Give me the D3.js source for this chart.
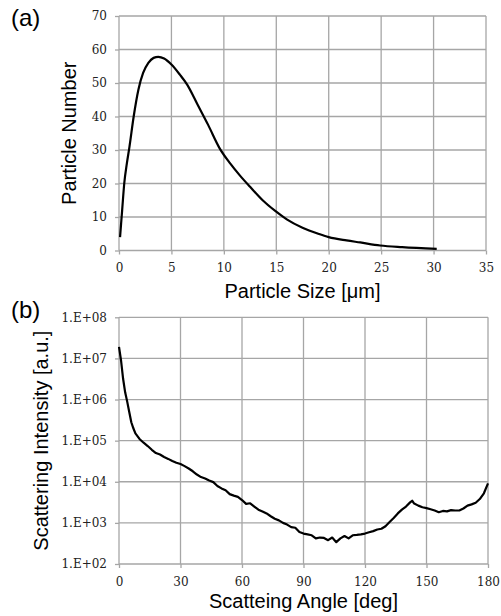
<!DOCTYPE html>
<html>
<head>
<meta charset="utf-8">
<script src="https://cdn.jsdelivr.net/npm/d3@7"></script>
<style>
  body { margin: 0; background: #fff; }
  .tick text { font-family: "DejaVu Serif", serif; font-size: 12px; fill: #222; }
  .title { font-family: "Liberation Sans", Arial, sans-serif; font-size: 20px; fill: #000; }
  .panel { font-family: "Liberation Sans", Arial, sans-serif; font-size: 24px; fill: #000; }
</style>
</head>
<body>
<svg width="501" height="616"></svg>
<script>
// (a) 粒径分布
var sizeX = [0.1, 0.3, 0.5, 0.75, 1, 1.4, 1.85, 2.3, 2.8, 3.3, 3.75, 4.3, 5, 5.8, 6.5, 7.5, 8.5, 9.6,
  10.6, 11.5, 12.5, 13.7, 14.9, 16, 17.5, 19, 20, 21.7, 23, 24.9, 27, 30.3];
var numberY = [4, 12, 20, 26, 31, 40, 48, 53, 56, 57.5, 57.8, 57.3, 55.5, 52.5, 49.5, 43.5, 37.5, 30.5,
  26, 22.5, 19, 15, 11.8, 9.3, 6.8, 5, 4, 3, 2.4, 1.5, 1, 0.5];
var sizeTicks = [0, 5, 10, 15, 20, 25, 30, 35];
var numberTicks = [0, 10, 20, 30, 40, 50, 60, 70];

// (b) 散乱強度
var angleX = [0, 1, 2, 3, 4, 5, 6, 7, 8, 10, 12, 14, 16, 18, 20, 22, 24, 26, 28, 30, 32, 34, 36, 38, 40,
  42, 44, 46, 48, 50, 52, 54, 56, 58, 60, 62, 64, 66, 68, 70, 72, 74, 76, 78, 80, 82, 84, 86, 88, 90,
  92, 94, 96, 98, 100, 102, 104, 106, 108, 110, 112, 114, 116, 118, 120, 122, 124, 126, 128, 130,
  132, 134, 136, 138, 140, 142, 143, 144, 146, 148, 150, 152, 154, 156, 158, 160, 162, 164, 166,
  168, 170, 172, 174, 176, 178, 180];
var intensityY = [1.9e7, 8.9e6, 3.2e6, 1.5e6, 8.9e5, 5.0e5, 2.8e5, 2.0e5, 1.5e5, 1.1e5, 8.9e4, 7.4e4,
  6.0e4, 5.0e4, 4.6e4, 4.0e4, 3.6e4, 3.2e4, 2.9e4, 2.7e4, 2.4e4, 2.1e4, 1.8e4, 1.5e4, 1.3e4,
  1.2e4, 1.07e4, 9.8e3, 7.9e3, 6.9e3, 6.2e3, 5.0e3, 4.6e3, 4.3e3, 3.6e3, 2.9e3, 3.0e3, 2.5e3, 2.1e3,
  1.9e3, 1.7e3, 1450, 1260, 1150, 1000, 910, 790, 760, 600, 550,
  525, 500, 420, 440, 430, 380, 440, 340, 420, 480, 420, 500, 510, 525, 550, 590, 630, 690, 720, 830,
  1050, 1320, 1700, 2100, 2500, 3150, 3450, 2950, 2630, 2400, 2290, 2140, 2000, 1820, 1950, 1900,
  2040, 2000, 2000, 2240, 2630, 2820, 3090, 3800, 5250, 9100];
var angleTicks = [0, 30, 60, 90, 120, 150, 180];
var intensityTicks = [1e2, 1e3, 1e4, 1e5, 1e6, 1e7, 1e8];

var svg = d3.select("svg");
var gridColor = "#a6a6a6";

function panel(opt) {
  var g = svg.append("g");
  var x = opt.x, y = opt.y;
  var x0 = x.range()[0], x1 = x.range()[1];
  var y0 = y.range()[0], y1 = y.range()[1];

  // グリッド
  g.append("g").selectAll("line").data(opt.xTicks).enter().append("line")
    .attr("x1", function (d) { return x(d); }).attr("x2", function (d) { return x(d); })
    .attr("y1", y0).attr("y2", y1)
    .style("stroke", gridColor).style("stroke-width", 1.3);
  g.append("g").selectAll("line").data(opt.yTicks).enter().append("line")
    .attr("y1", function (d) { return y(d); }).attr("y2", function (d) { return y(d); })
    .attr("x1", x0).attr("x2", x1)
    .style("stroke", gridColor).style("stroke-width", 1.3);

  // 軸
  var ax = g.append("g").attr("transform", "translate(0," + y0 + ")")
    .call(d3.axisBottom(x).tickValues(opt.xTicks).tickSize(4).tickPadding(9).tickFormat(opt.xFmt));
  var ay = g.append("g").attr("transform", "translate(" + x0 + ",0)")
    .call(d3.axisLeft(y).tickValues(opt.yTicks).tickSize(4).tickPadding(8).tickFormat(opt.yFmt));
  [ax, ay].forEach(function (a) {
    a.select(".domain").remove();
    a.selectAll(".tick line").style("stroke", gridColor).style("stroke-width", 1.3);
  });

  // 曲線
  g.append("path")
    .datum(opt.xs.map(function (d, i) { return [d, opt.ys[i]]; }))
    .attr("d", d3.line()
      .x(function (d) { return x(d[0]); })
      .y(function (d) { return y(d[1]); })
      .curve(opt.curve))
    .style("fill", "none").style("stroke", "#000").style("stroke-width", 2.2)
    .style("stroke-linejoin", "round");

  // タイトル
  svg.append("text").attr("class", "title")
    .attr("x", (x0 + x1) / 2).attr("y", opt.xTitleY)
    .attr("text-anchor", "middle").text(opt.xTitle);
  svg.append("text").attr("class", "title")
    .attr("transform", "translate(" + opt.yTitleX + "," + (y0 + y1) / 2 + ") rotate(-90)")
    .attr("text-anchor", "middle").text(opt.yTitle);
  svg.append("text").attr("class", "panel")
    .attr("x", 11).attr("y", opt.labelY).text(opt.label);
}

panel({
  x: d3.scaleLinear().domain([0, 35]).range([119, 486]),
  y: d3.scaleLinear().domain([0, 70]).range([250.5, 16]),
  xTicks: sizeTicks, yTicks: numberTicks,
  xFmt: d3.format("d"), yFmt: d3.format("d"),
  xs: sizeX, ys: numberY, curve: d3.curveMonotoneX,
  xTitle: "Particle Size [μm]", xTitleY: 298,
  yTitle: "Particle Number", yTitleX: 76,
  label: "(a)", labelY: 26
});

panel({
  x: d3.scaleLinear().domain([0, 180]).range([119, 488]),
  y: d3.scaleLog().domain([1e2, 1e8]).range([564, 317.3]),
  xTicks: angleTicks, yTicks: intensityTicks,
  xFmt: d3.format("d"),
  yFmt: function (d) { return "1.E+" + String(Math.round(Math.log10(d))).padStart(2, "0"); },
  xs: angleX, ys: intensityY, curve: d3.curveLinear,
  xTitle: "Scatteing Angle [deg]", xTitleY: 608,
  yTitle: "Scattering Intensity [a.u.]", yTitleX: 48,
  label: "(b)", labelY: 318
});
</script>
</body>
</html>
